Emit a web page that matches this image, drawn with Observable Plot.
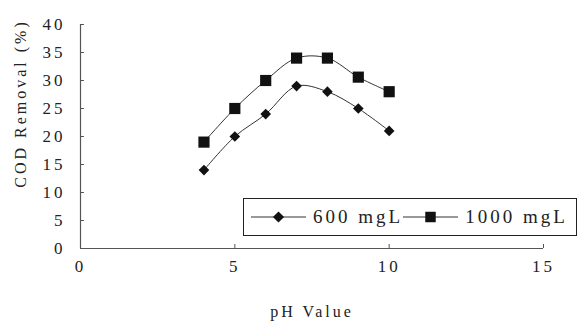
<!DOCTYPE html>
<html>
<head>
<meta charset="utf-8">
<script src="https://cdn.jsdelivr.net/npm/d3@7"></script>
<script src="https://cdn.jsdelivr.net/npm/@observablehq/plot@0.6"></script>
<style>
  html, body { margin: 0; padding: 0; background: #fff; }
  #chart { position: relative; width: 580px; height: 325px; }
  #chart svg text { font-family: "Liberation Serif", "DejaVu Serif", serif; letter-spacing: 3px; }
  .legend {
    position: absolute; left: 243px; top: 198px; width: 334px; height: 38px;
    border: 1px solid #222; background: #fff; box-sizing: border-box;
    display: flex; align-items: center;
    font-family: "Liberation Serif", "DejaVu Serif", serif; font-size: 19px; letter-spacing: 3px; color: #222;
  }
  .legend svg { display: block; }
  .legend span { margin-left: 7px; }
</style>
</head>
<body>
<div id="chart"></div>
<script>
// pH values tested and COD removal (%) for each initial concentration
const pH = [4, 5, 6, 7, 8, 9, 10];
const removal600 = [14, 20, 24, 29, 28, 25, 21];
const removal1000 = [19, 25, 30, 34, 34, 30.6, 28];
const seriesNames = ["600 mgL", "1000 mgL"];
const xTicks = [0, 5, 10, 15];
const yTicks = [0, 5, 10, 15, 20, 25, 30, 35, 40];

const s600 = pH.map((p, i) => ({pH: p, v: removal600[i]}));
const s1000 = pH.map((p, i) => ({pH: p, v: removal1000[i]}));

const serif = "Liberation Serif";

const plot = Plot.plot({
  width: 580,
  height: 325,
  marginLeft: 80,
  marginRight: 37,
  marginTop: 24,
  marginBottom: 77,
  x: {domain: [0, 15]},
  y: {domain: [0, 40]},
  style: {fontFamily: serif, fontSize: "17px", color: "#222"},
  marks: [
    // inward tick marks
    Plot.axisY(yTicks, {tickSize: 4, dx: 4, text: null, label: null, stroke: "#555"}),
    Plot.axisX(xTicks, {tickSize: 4, dy: -4, text: null, label: null, stroke: "#555"}),
    // tick labels
    Plot.axisY(yTicks, {tickSize: 0, tickPadding: 15, label: null, fill: "#222", fontFamily: serif, fontSize: 17}),
    Plot.axisX(xTicks, {tickSize: 0, tickPadding: 11, label: null, fill: "#222", fontFamily: serif, fontSize: 17}),
    // axis lines
    Plot.ruleX([0], {stroke: "#555", strokeWidth: 1.2}),
    Plot.ruleY([0], {stroke: "#555", strokeWidth: 1.2}),
    // axis titles
    Plot.text(["COD Removal (%)"], {frameAnchor: "left", textAnchor: "middle", rotate: -90, dx: -60, dy: -33, fill: "#222", fontFamily: serif, fontSize: 16}),
    Plot.text(["pH Value"], {frameAnchor: "bottom", dy: 68, fill: "#222", fontFamily: serif, fontSize: 16}),
    // series
    Plot.line(s1000, {x: "pH", y: "v", curve: "catmull-rom", stroke: "#333", strokeWidth: 1}),
    Plot.line(s600, {x: "pH", y: "v", curve: "catmull-rom", stroke: "#333", strokeWidth: 1}),
    Plot.dot(s1000, {x: "pH", y: "v", symbol: "square", r: 6.3, fill: "#111", stroke: null}),
    Plot.dot(s600, {x: "pH", y: "v", symbol: "diamond2", r: 4.8, fill: "#111", stroke: null})
  ]
});

const chart = document.getElementById("chart");
chart.appendChild(plot);

// legend box inside the plot area
const legend = document.createElement("div");
legend.className = "legend";
const swatch = (sym, w) => {
  const s = d3.create("svg").attr("width", w).attr("height", 14);
  s.append("line").attr("x1", 0).attr("x2", w).attr("y1", 7).attr("y2", 7).attr("stroke", "#333");
  const path = d3.symbol(sym === "square" ? d3.symbolSquare : d3.symbolDiamond2, sym === "square" ? 110 : 80)();
  s.append("path").attr("d", path).attr("transform", `translate(${w / 2},7)`).attr("fill", "#111");
  return s.node();
};
const item = (sym, name, w, gap) => {
  const wrap = document.createElement("div");
  wrap.style.display = "flex";
  wrap.style.alignItems = "center";
  wrap.style.marginLeft = gap + "px";
  wrap.appendChild(swatch(sym, w));
  const t = document.createElement("span");
  t.textContent = name;
  wrap.appendChild(t);
  return wrap;
};
legend.appendChild(item("diamond", seriesNames[0], 55, 7));
legend.appendChild(item("square", seriesNames[1], 55, 0));
chart.appendChild(legend);
</script>
</body>
</html>
